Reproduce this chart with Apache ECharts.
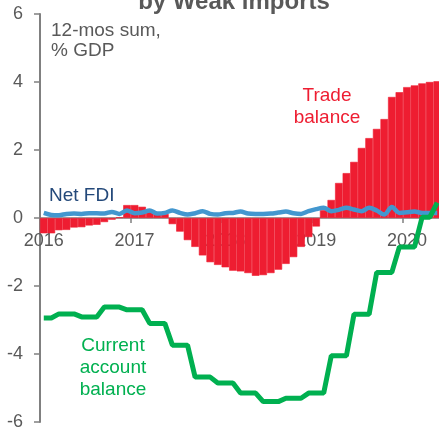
<!DOCTYPE html>
<html>
<head>
<meta charset="utf-8">
<script src="https://cdn.jsdelivr.net/npm/echarts@6/dist/echarts.min.js"></script>
<style>
  html, body { margin: 0; padding: 0; background: #fff; }
  #chart { width: 439px; height: 429px; }
</style>
</head>
<body>
<div id="chart"></div>
<script>
// monthly categories, Jan 2016 .. May 2020
const startYear = 2016;
const monthCount = 53;
const months = [];
for (let i = 0; i < monthCount; i++) {
  const y = startYear + Math.floor(i / 12);
  const m = (i % 12) + 1;
  months.push(y + '-' + (m < 10 ? '0' + m : m));
}

// trade balance, 12-mos sum % GDP (bars)
const tradeBalance = [
  -0.45, -0.45, -0.36, -0.35, -0.28, -0.27, -0.22, -0.2, -0.12, -0.05, 0.02, 0.38,
  0.38, 0.33, 0.18, 0.15, 0.12, -0.18, -0.4, -0.65, -0.85, -1.1, -1.3, -1.38,
  -1.45, -1.55, -1.57, -1.62, -1.7, -1.68, -1.62, -1.52, -1.35, -1.15, -0.85, -0.56,
  -0.25, 0.23, 0.53, 1.03, 1.32, 1.65, 2.06, 2.35, 2.62, 2.91, 3.56, 3.7,
  3.85, 3.9, 3.96, 4.0, 4.02
];

// net FDI
const netFdi = [
  0.15, 0.09, 0.08, 0.12, 0.13, 0.12, 0.14, 0.14, 0.13, 0.18, 0.12, 0.22,
  0.14, 0.16, 0.22, 0.13, 0.15, 0.22, 0.15, 0.1, 0.14, 0.2, 0.12, 0.1,
  0.14, 0.15, 0.19, 0.13, 0.12, 0.12, 0.13, 0.16, 0.19, 0.14, 0.12, 0.2,
  0.26, 0.3, 0.2, 0.24, 0.3, 0.25, 0.2, 0.3, 0.22, 0.1, 0.32, 0.15,
  0.17, 0.19, 0.15, 0.15, 0.15
];

// current account balance (quarterly values held over months)
const currentAccount = [
  -2.94, -2.94, -2.82, -2.82, -2.82, -2.91, -2.91, -2.91, -2.62, -2.62, -2.62, -2.7,
  -2.7, -2.7, -3.1, -3.1, -3.1, -3.74, -3.74, -3.74, -4.68, -4.68, -4.68, -4.85,
  -4.85, -4.85, -5.15, -5.15, -5.15, -5.4, -5.4, -5.4, -5.3, -5.3, -5.3, -5.15,
  -5.15, -5.15, -4.05, -4.05, -4.05, -2.83, -2.83, -2.83, -1.6, -1.6, -1.6, -0.85,
  -0.85, -0.85, 0.02, 0.02, 0.45
];

const yTicks = { min: -6, max: 6, step: 2 };

const RED = '#ee1d31';
const BLUE = '#4397cf';
const GREEN = '#00b050';
const NAVY = '#24497a';
const GREY_TEXT = '#595959';
const AXIS = '#808080';
const FONT = '"Liberation Sans", Arial, sans-serif';

const GRID_H = 408;

const chart = echarts.init(document.getElementById('chart'), null, { renderer: 'canvas' });

chart.setOption({
  animation: false,
  backgroundColor: '#fff',
  textStyle: { fontFamily: FONT },
  grid: { left: 40, top: 14, width: 401, height: GRID_H, outerBoundsMode: 'none' },
  xAxis: {
    type: 'category',
    data: months,
    boundaryGap: true,
    position: 'bottom',
    // move the axis up to y = 0 (middle of the symmetric range)
    offset: -GRID_H / 2,
    z: 0,
    axisLine: { onZero: false, lineStyle: { color: AXIS, width: 1.5 } },
    axisTick: { show: true, interval: 11, length: 5, lineStyle: { color: AXIS, width: 1.5 } },
    axisLabel: {
      show: true,
      interval: 11,
      formatter: (v) => v.slice(0, 4),
      color: GREY_TEXT,
      fontSize: 18,
      fontFamily: FONT,
      margin: 14
    },
    splitLine: { show: false }
  },
  yAxis: {
    type: 'value',
    min: yTicks.min,
    max: yTicks.max,
    interval: yTicks.step,
    axisLine: { show: true, onZero: false, lineStyle: { color: AXIS, width: 2 } },
    axisTick: { show: true, length: 6, lineStyle: { color: AXIS, width: 1.5 } },
    axisLabel: { color: GREY_TEXT, fontSize: 18, fontFamily: FONT, margin: 17 },
    splitLine: { show: false }
  },
  series: [
    {
      name: 'Trade balance',
      type: 'bar',
      data: tradeBalance,
      barWidth: '100%',
      itemStyle: { color: RED, borderColor: RED, borderWidth: 0.6 },
      z: 2
    },
    {
      name: 'Net FDI',
      type: 'line',
      data: netFdi,
      symbol: 'none',
      smooth: 0.3,
      lineStyle: { color: BLUE, width: 4.5 },
      z: 3
    },
    {
      name: 'Current account balance',
      type: 'line',
      data: currentAccount,
      symbol: 'none',
      lineStyle: { color: GREEN, width: 5 },
      z: 4
    }
  ],
  graphic: [
    {
      type: 'text', x: 234, y: 2, z: 10,
      style: {
        text: 'by Weak imports', fill: GREY_TEXT, font: 'bold 24px ' + FONT,
        align: 'center', verticalAlign: 'middle'
      }
    },
    {
      type: 'text', x: 51, y: 21, z: 10,
      style: {
        text: '12-mos sum,\n% GDP', fill: GREY_TEXT, font: '19px ' + FONT,
        lineHeight: 20, align: 'left', verticalAlign: 'top'
      }
    },
    {
      type: 'text', x: 327, y: 85, z: 10,
      style: {
        text: 'Trade\nbalance', fill: RED, font: '19px ' + FONT,
        lineHeight: 22, align: 'center', verticalAlign: 'top'
      }
    },
    {
      type: 'text', x: 49, y: 196, z: 10,
      style: {
        text: 'Net FDI', fill: NAVY, font: '19px ' + FONT,
        align: 'left', verticalAlign: 'middle'
      }
    },
    {
      type: 'text', x: 113, y: 335, z: 10,
      style: {
        text: 'Current\naccount\nbalance', fill: GREEN, font: '19px ' + FONT,
        lineHeight: 22, align: 'center', verticalAlign: 'top'
      }
    }
  ]
});

window.addEventListener('resize', () => chart.resize());
</script>
</body>
</html>
